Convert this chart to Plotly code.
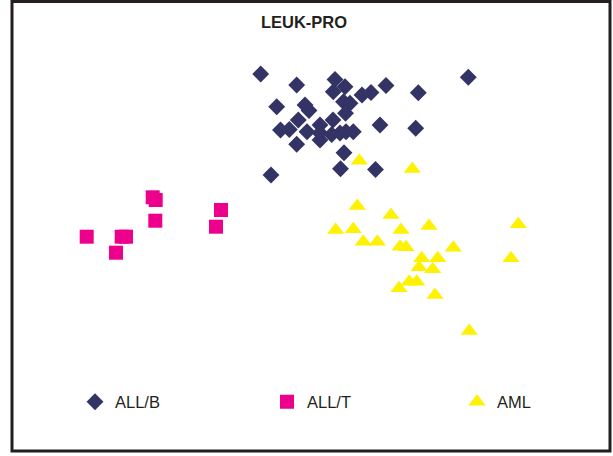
import plotly.graph_objects as go

# Values (arbitrary projection units, y grows downward)
allb_x = [260.7, 296.7, 335.0, 345.0, 333.3, 362.0, 371.0, 386.0, 418.3, 468.3,
          276.7, 305.0, 309.0, 343.5, 350.0, 345.5, 380.0, 415.7, 298.3, 333.0,
          280.5, 289.3, 307.0, 320.0, 320.0, 320.0, 331.7, 340.0, 346.0, 353.3,
          296.7, 344.0, 340.5, 375.5, 271.0]
allb_y = [74.0, 85.0, 79.5, 86.7, 91.7, 95.0, 92.5, 85.5, 92.7, 77.3,
          106.7, 105.0, 110.5, 101.7, 103.3, 113.3, 125.0, 128.3, 120.0, 120.0,
          130.0, 129.5, 131.7, 125.0, 133.0, 140.0, 134.5, 133.0, 131.7, 131.7,
          144.3, 152.7, 168.8, 169.5, 175.0]

allt_x = [86.7, 116.0, 121.7, 126.0, 152.7, 155.7, 155.3, 221.0, 216.0]
allt_y = [236.7, 252.7, 236.7, 236.7, 197.3, 200.0, 220.7, 210.0, 226.7]

aml_x = [359.3, 412.3, 357.3, 391.0, 335.7, 353.3, 401.0, 429.0, 518.3, 363.3,
         377.3, 400.0, 406.0, 453.3, 421.7, 437.7, 511.0, 419.0, 432.7, 409.3,
         416.7, 399.0, 435.0, 469.3]
aml_y = [160.7, 169.0, 206.0, 215.0, 230.0, 229.3, 230.0, 226.0, 224.3, 241.7,
         241.7, 246.7, 247.3, 247.7, 258.3, 258.3, 258.3, 267.3, 269.3, 281.7,
         281.7, 288.3, 295.0, 331.0]

groups = ["ALL/B", "ALL/T", "AML"]
colors = ["#333366", "#ec008c", "#fff200"]
symbols = ["diamond", "square", "triangle-up"]
sizes = [13, 14, 15]
legend_ids = ["legend", "legend2", "legend3"]
legend_left_px = [75, 267, 457]

W, H = 613, 456

fig = go.Figure()
for name, xs, ys, c, s, sz, lg in zip(groups, [allb_x, allt_x, aml_x], [allb_y, allt_y, aml_y],
                                       colors, symbols, sizes, legend_ids):
    fig.add_trace(go.Scatter(x=xs, y=ys, mode="markers", name=name, legend=lg,
                             marker=dict(symbol=s, color=c, size=sz, line=dict(width=0))))

legend_common = dict(orientation="h", xanchor="left", yanchor="middle",
                     y=1 - 402 / H, font=dict(size=16.5, color="#231f20"),
                     bgcolor="rgba(0,0,0,0)", borderwidth=0)

fig.update_layout(
    width=W, height=H,
    margin=dict(l=0, r=0, t=0, b=0),
    paper_bgcolor="white", plot_bgcolor="white",
    font=dict(family="Liberation Sans, Arial, sans-serif", color="#231f20"),
    title=dict(text="<b>LEUK-PRO</b>", x=304 / W, xanchor="center",
               y=1 - 22 / H, yanchor="middle", font=dict(size=16.5, color="#231f20")),
    xaxis=dict(range=[0, W], visible=False, fixedrange=True),
    yaxis=dict(range=[H, 0], visible=False, fixedrange=True),
    showlegend=True,
    legend=dict(x=legend_left_px[0] / W, **legend_common),
    legend2=dict(x=legend_left_px[1] / W, **legend_common),
    legend3=dict(x=legend_left_px[2] / W, **legend_common),
    shapes=[dict(type="rect", xref="paper", yref="paper",
                 x0=12 / W, x1=610 / W, y0=1 - 451 / H, y1=1 - 1.5 / H,
                 line=dict(color="#231f20", width=3))],
)

fig.write_html("out.html", config={"displayModeBar": False},
               post_script="document.body.style.margin='0';")
